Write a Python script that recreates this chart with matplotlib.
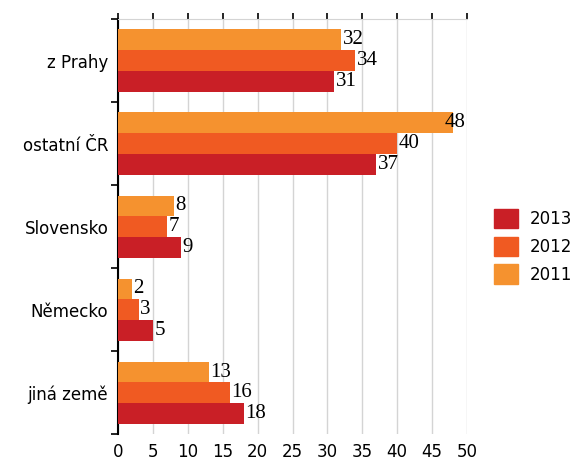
import numpy as np
import matplotlib
matplotlib.use('Agg')
import matplotlib.pyplot as plt
from matplotlib.patches import Patch

kategorie = ['z Prahy', 'ostatní ČR', 'Slovensko', 'Německo', 'jiná země']
roky = ['2013', '2012', '2011']
h2013 = [31, 37, 9, 5, 18]
h2012 = [34, 40, 7, 3, 16]
h2011 = [32, 48, 8, 2, 13]
barvy = {'2013': '#c91f26', '2012': '#f05a22', '2011': '#f5922f'}

fig = plt.figure(figsize=(5.74, 4.65), dpi=100)
ax = fig.add_axes([0.2056, 0.066, 0.6080, 0.893])

y = np.arange(len(kategorie))
vyska = 0.25
serie = [('2011', h2011, -vyska), ('2012', h2012, 0), ('2013', h2013, vyska)]
for rok, hodnoty, posun in serie:
    ax.barh(y + posun, hodnoty, height=vyska, color=barvy[rok], zorder=3)
    for yi, v in zip(y, hodnoty):
        if v > 45:
            ax.text(49.8, yi + posun, str(v), ha='right', va='center',
                    fontsize=15, family='Liberation Serif', zorder=4)
        else:
            ax.text(v + 0.2, yi + posun, str(v), ha='left', va='center',
                    fontsize=15, family='Liberation Serif', zorder=4)

ax.set_xlim(0, 50)
ax.set_ylim(len(kategorie) - 0.5, -0.5)
ax.set_xticks(np.arange(0, 51, 5))
ax.tick_params(axis='x', which='both', bottom=False, top=True, labelbottom=True,
               labeltop=False, direction='out', length=4, width=1.2,
               colors='black', labelsize=12, pad=2)
ax.set_yticks(y)
ax.set_yticklabels(kategorie, fontsize=12)
ax.set_yticks(np.arange(-0.5, len(kategorie), 1), minor=True)
ax.tick_params(axis='y', which='major', length=0, pad=7)
ax.tick_params(axis='y', which='minor', length=5, width=1.2, direction='out')

ax.grid(axis='x', color='#d4d4d4', linewidth=1, zorder=0)
for s in ['right', 'bottom']:
    ax.spines[s].set_visible(False)
ax.spines['top'].set_color('#d4d4d4')
ax.spines['left'].set_color('black')
ax.spines['left'].set_linewidth(1.5)

handles = [Patch(color=barvy[r]) for r in roky]
fig.legend(handles, roky, loc='center left', bbox_to_anchor=(0.835, 0.47),
           frameon=False, fontsize=12, handlelength=1.4, handleheight=1.4,
           labelspacing=0.5, handletextpad=0.7)

fig.savefig('out.png', dpi=100)
